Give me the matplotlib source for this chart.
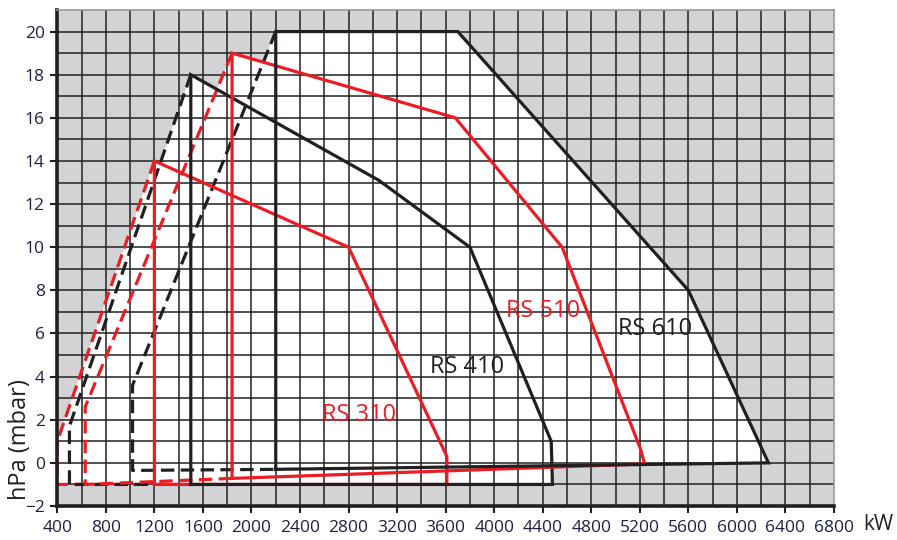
import matplotlib
matplotlib.use("Agg")
import matplotlib.pyplot as plt

plt.rcParams['font.family'] = ['Open Sans', 'DejaVu Sans']

# ---- data (kW, hPa) ----
rs310_x = [1200, 1200, 2800, 3610, 3610, 1200]
rs310_y = [-1, 14, 10, 0.3, -1, -1]
rs310_dx = [1200, 400, 400, 1200]
rs310_dy = [14, 1, -1, -1]

rs410_x = [1500, 1500, 3050, 3800, 4470, 4480, 1500]
rs410_y = [-1, 18, 13.1, 10, 1, -1, -1]
rs410_dx = [1500, 500, 500, 1500]
rs410_dy = [18, 1.7, -1, -1]

rs510_x = [1840, 1840, 3680, 4560, 5205, 5240, 1840]
rs510_y = [-0.72, 19, 16, 10, 0.65, -0.05, -0.72]
rs510_dx = [1840, 630, 630, 1840]
rs510_dy = [19, 2.6, -1, -0.72]

rs610_x = [2200, 2200, 3700, 5600, 6260, 2200]
rs610_y = [-0.3, 20, 20, 8, 0, -0.3]
rs610_dx = [2200, 1020, 1020, 2200]
rs610_dy = [20, 3.6, -0.35, -0.3]

labels = ["RS 310", "RS 410", "RS 510", "RS 610"]
label_x = [2580, 3470, 4100, 5020]
label_y = [2.2, 4.45, 7.05, 6.2]

x_ticks = list(range(400, 6801, 400))
y_ticks = list(range(-2, 21, 2))
x_grid = list(range(600, 6800, 200))
y_grid = list(range(-1, 21, 1))

RED = '#ed1c24'
BLK = '#231f20'
GRAY = '#d1d3d4'
TXT = '#1f2040'

fig = plt.figure(figsize=(8.97, 5.40), dpi=100)
ax = fig.add_axes([57.3/897, 1-506/540, (834-57.3)/897, (506-10)/540])
ax.set_facecolor(GRAY)
ax.set_xlim(400, 6800)
ax.set_ylim(-2, 21)

series = [(rs310_x, rs310_y, rs310_dx, rs310_dy, RED),
          (rs410_x, rs410_y, rs410_dx, rs410_dy, BLK),
          (rs510_x, rs510_y, rs510_dx, rs510_dy, RED),
          (rs610_x, rs610_y, rs610_dx, rs610_dy, BLK)]

# white working area: union of the solid and dashed envelopes
for sx, sy, dx, dy, c in series:
    ax.fill(sx, sy, facecolor='white', edgecolor='none', zorder=0.2)
    ax.fill(dx, dy, facecolor='white', edgecolor='none', zorder=0.2)

# grid
ax.vlines(x_grid, -2, 21, color=BLK, lw=1.1, zorder=1)
ax.hlines(y_grid, 400, 6800, color=BLK, lw=1.1, zorder=1)
ax.set_xticks(x_ticks)
ax.set_yticks(y_ticks)

for sx, sy, dx, dy, c in series:
    ax.plot(dx, dy, color=c, lw=2.3, dashes=(4.2, 2.0), zorder=2,
            solid_joinstyle='miter', dash_capstyle='butt')
for sx, sy, dx, dy, c in series:
    ax.plot(sx, sy, color=c, lw=2.3, zorder=3, solid_joinstyle='miter')

for t, lx, ly, c in zip(labels, label_x, label_y, [RED, BLK, RED, BLK]):
    ax.text(lx, ly, t, color=c, fontsize=17, ha='left', va='center', zorder=4)

for s in ['left', 'bottom']:
    ax.spines[s].set_linewidth(2.6)
    ax.spines[s].set_color(BLK)
for s in ['top', 'right']:
    ax.spines[s].set_linewidth(1.2)
    ax.spines[s].set_color('#9a9a9a')

ax.tick_params(which='major', direction='out', length=5, width=1.5, color=BLK,
               labelsize=12.5, labelcolor=TXT, pad=4)
ax.tick_params(axis='x', pad=5)

fig.text(878/897, 1-524/540, 'kW', fontsize=15, color=BLK, ha='center', va='center')
fig.text(20/897, 1-440/540, 'hPa (mbar)', fontsize=17, color=BLK, ha='center',
         va='center', rotation=90)

fig.savefig('out.png', dpi=100)
